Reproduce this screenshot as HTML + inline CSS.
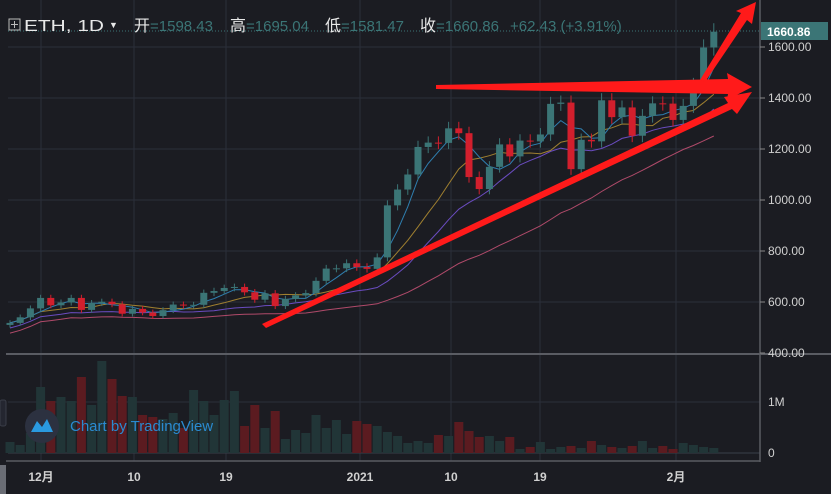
<!DOCTYPE html>
<html><head><meta charset="utf-8"><style>
html,body{margin:0;padding:0;background:#1b1c22;}
body{width:831px;height:494px;overflow:hidden;font-family:"Liberation Sans","Noto Sans CJK SC",sans-serif;}
</style></head><body>
<svg id="s" width="831" height="494" xmlns="http://www.w3.org/2000/svg" style="display:block;font-family:'Liberation Sans','Noto Sans CJK SC',sans-serif"></svg>
<script>
const S=document.getElementById('s');let h='';
h+='<rect width="831" height="494" fill="#1b1c22"/>';
const py=p=>47+(1600-p)*0.255;
[1600,1400,1200,1000,800,600].forEach(p=>h+=`<line x1="8" x2="760" y1="${py(p)}" y2="${py(p)}" stroke="#2b2f3a"/>`);
[41,134,226,360,451,540,676].forEach(x=>h+=`<line x1="${x}" x2="${x}" y1="0" y2="461" stroke="#2b2f3a"/>`);
h+=`<line x1="8" x2="760" y1="402" y2="402" stroke="#2b2f3a"/><line x1="8" x2="760" y1="453" y2="453" stroke="#3a3f4a"/>`;
const c=[518,540,575,616,587,598,616,569,596,601,591,554,573,559,545,568,590,586,589,636,643,655,659,638,609,634,584,612,626,635,683,731,732,752,737,730,775,979,1041,1100,1208,1225,1224,1281,1262,1090,1043,1130,1218,1171,1233,1230,1257,1377,1382,1121,1236,1230,1391,1325,1363,1252,1330,1379,1378,1314,1369,1450,1598,1660];
const n=c.length;const X=i=>10+i*10.2;
const vol=[11,8,20,66,52,56,52,76,48,92,74,57,56,38,36,34,40,25,63,52,38,53,62,27,48,25,42,14,23,20,38,25,33,19,32,29,27,21,17,10,12,10,18,17,31,22,16,17,12,16,4,6,11,4,6,7,5,12,8,6,5,7,12,5,7,4,10,8,6,5];
function ma(k,off){let pts=[];for(let i=0;i<n;i++){let a=0,m=0;for(let j=Math.max(0,i-k+1);j<=i;j++){a+=c[j];m++;}pts.push(X(i)+','+py(a/m-off).toFixed(1));}return pts.join(' ');}
h+=`<polyline points="${ma(30,40)}" fill="none" stroke="#b04a6a" stroke-width="1"/>`;
h+=`<polyline points="${ma(14,20)}" fill="none" stroke="#6a4cc0" stroke-width="1"/>`;
h+=`<polyline points="${ma(9,0)}" fill="none" stroke="#a08030" stroke-width="1"/>`;
h+=`<polyline points="${ma(4,0)}" fill="none" stroke="#2f7fb0" stroke-width="1"/>`;
for(let i=0;i<n;i++){const o=i?c[i-1]:510,cl=c[i];const up=cl>=o;const col=up?'#3b7576':'#d21f2d';
const hi=Math.max(o,cl)*1.02,lo=Math.min(o,cl)*0.98;const x=X(i);
h+=`<line x1="${x}" x2="${x}" y1="${py(hi)}" y2="${py(lo)}" stroke="${col}"/>`;
const t=py(Math.max(o,cl)),b=py(Math.min(o,cl));h+=`<rect x="${x-3.5}" y="${t}" width="7" height="${Math.max(1,b-t)}" fill="${col}"/>`;
const v=vol[i]||5;h+=`<rect x="${x-4.5}" y="${453-v}" width="9" height="${v}" fill="${up?'#213537':'#5b1b20'}"/>`;}
h+=`<line x1="6" x2="831" y1="354" y2="354" stroke="#5a5c63" stroke-width="2"/><line x1="760" x2="760" y1="0" y2="462" stroke="#5a5c63" stroke-width="1.5"/><line x1="6" x2="760" y1="461" y2="461" stroke="#5a5c63" stroke-width="1.5"/>`;
h+=`<rect x="0" y="465" width="6" height="29" fill="#6a6d75"/>`;
[1600,1400,1200,1000,800,600,400].forEach(p=>{h+=`<line x1="760" x2="765" y1="${py(p)}" y2="${py(p)}" stroke="#888"/><text x="768" y="${py(p)+4}" font-size="12" fill="#d0d0d0">${p}.00</text>`});
h+=`<text x="768" y="406" font-size="12" fill="#d0d0d0">1M</text><text x="768" y="457" font-size="12" fill="#d0d0d0">0</text>`;
h+=`<line x1="8" x2="760" y1="31" y2="31" stroke="#3b7576" stroke-dasharray="1,2"/><rect x="761" y="22" width="67" height="18" fill="#3b7576"/><text x="767" y="36" font-size="12" font-weight="bold" fill="#fff">1660.86</text>`;
[[41,'12月'],[134,'10'],[226,'19'],[360,'2021'],[451,'10'],[540,'19'],[676,'2月']].forEach(d=>h+=`<text x="${d[0]}" y="481" font-size="12" font-weight="bold" fill="#d0d0d0" text-anchor="middle">${d[1]}</text>`);
h+=`<rect x="9" y="19" width="11" height="11" fill="none" stroke="#bbb"/><line x1="14.5" x2="14.5" y1="21" y2="28" stroke="#bbb"/><line x1="11" x2="18" y1="24.5" y2="24.5" stroke="#bbb"/>`;
h+=`<text x="24" y="31" font-size="16" fill="#e8e8e8" textLength="80" lengthAdjust="spacingAndGlyphs">ETH, 1D</text><text x="109" y="28" font-size="9" fill="#e8e8e8">▼</text>`;
const hd=[[134,'开','1598.43'],[230,'高','1695.04'],[325,'低','1581.47'],[420,'收','1660.86']];
hd.forEach(d=>h+=`<text x="${d[0]}" y="31" font-size="16" fill="#e8e8e8">${d[1]}</text><text x="${d[0]+16}" y="31" font-size="15" fill="#3b7576">=${d[2]}</text>`);
h+=`<text x="510" y="31" font-size="15" fill="#3b7576">+62.43 (+3.91%)</text>`;
h+=`<circle cx="42" cy="426" r="17" fill="#2c3140"/><path d="M31 432 L37 421 L42 427 L47 419 L53 432 Z" fill="#2a9ae0"/><text x="70" y="431" font-size="15" fill="#2a8ad0">Chart by TradingView</text>`;
h+=`<rect x="0" y="400" width="6" height="26" rx="2" fill="#242630" stroke="#3a3d48"/>`;
h+=`<polygon points="436,85 728,79 727,73 752,87 727,100 728,94 436,89" fill="#ff1a1a"/>`;
h+=`<polygon points="262,324 728,103 724,97 752,92 737,114 732,109 266,328" fill="#ff1a1a"/>`;
h+=`<polygon points="700,80 741,13 736,11 756,2 752,24 747,20 705,82" fill="#ff1a1a"/>`;
S.innerHTML=h;
</script>
</body></html>
